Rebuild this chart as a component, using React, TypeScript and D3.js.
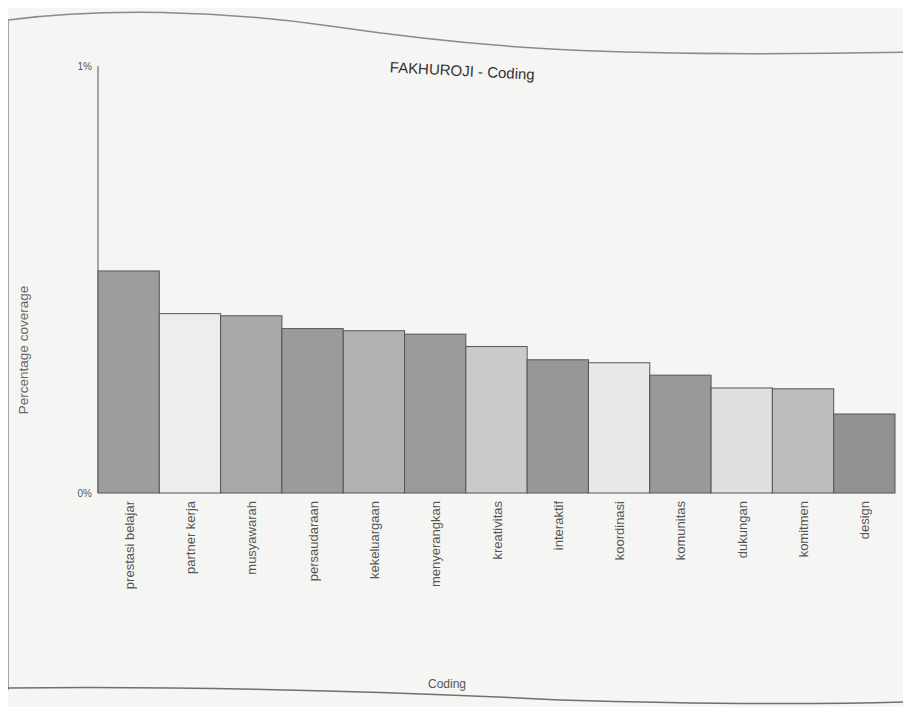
import React from "react";
import * as d3 from "d3";

// Coding nodes and their percentage coverage
const categories = [
  "prestasi belajar",
  "partner kerja",
  "musyawarah",
  "persaudaraan",
  "kekeluargaan",
  "menyerangkan",
  "kreativitas",
  "interaktif",
  "koordinasi",
  "komunitas",
  "dukungan",
  "komitmen",
  "design",
];
const coverage = [0.52, 0.42, 0.415, 0.385, 0.38, 0.372, 0.343, 0.312, 0.305, 0.276, 0.246, 0.244, 0.185];
const barColors = [
  "#9d9d9d", "#ededeb", "#a9a9a9", "#9b9b9b", "#b2b2b2", "#9a9a9a", "#cacaca",
  "#979797", "#e8e8e6", "#999999", "#dfdfdd", "#bdbdbd", "#929292",
];
const yTicks = [0, 1];

const width = 911;
const height = 715;
const margin = { top: 66, right: 16, bottom: 222, left: 98 };

const App: React.FC = () => {
  const x = d3
    .scaleBand()
    .domain(categories)
    .range([margin.left, width - margin.right])
    .padding(0);

  const y = d3
    .scaleLinear()
    .domain([0, 1])
    .range([height - margin.bottom, margin.top]);

  const data = categories.map((c, i) => ({ name: c, value: coverage[i], color: barColors[i] }));
  const font = "'Liberation Sans', Arial, sans-serif";

  return (
    <svg
      width={width}
      height={height}
      style={{ display: "block", margin: "-8px", background: "#f5f5f3" }}
    >
      {/* printed page frame */}
      <path
        d="M8,20 C100,8 220,10 330,26 C480,48 600,58 911,52"
        fill="none"
        stroke="#8a8a8a"
        strokeWidth={1.5}
      />
      <line x1={8} y1={20} x2={8} y2={690} stroke="#8a8a8a" strokeWidth={1.5} />
      <path
        d="M8,688 C200,686 400,692 560,700 C700,704 800,705 905,702"
        fill="none"
        stroke="#6f6f6f"
        strokeWidth={1.5}
      />
      <line x1={905} y1={52} x2={905} y2={702} stroke="#8a8a8a" strokeWidth={1.2} />

      {/* title */}
      <text
        x={462}
        y={76}
        textAnchor="middle"
        transform="rotate(3 462 76)"
        style={{ fontFamily: font, fontSize: 15, fill: "#333" }}
      >
        FAKHUROJI - Coding
      </text>

      {/* y axis */}
      <line
        x1={margin.left}
        x2={margin.left}
        y1={y(1)}
        y2={y(0)}
        stroke="#555"
        strokeWidth={1}
      />
      {yTicks.map((t) => (
        <text
          key={t}
          x={margin.left - 6}
          y={y(t) + 4}
          textAnchor="end"
          style={{ fontFamily: font, fontSize: 10, fill: "#555" }}
        >
          {t}%
        </text>
      ))}
      <text
        transform={`translate(28, 350) rotate(-90)`}
        textAnchor="middle"
        style={{ fontFamily: font, fontSize: 13.5, fill: "#666" }}
      >
        Percentage coverage
      </text>

      {/* bars */}
      {data.map((d) => (
        <rect
          key={d.name}
          x={x(d.name) || 0}
          y={y(d.value)}
          width={x.bandwidth()}
          height={y(0) - y(d.value)}
          fill={d.color}
          stroke="#555"
          strokeWidth={1}
        />
      ))}

      {/* category labels */}
      {data.map((d) => {
        const cx = (x(d.name) || 0) + x.bandwidth() / 2 + 5;
        const ty = y(0) + 8;
        return (
          <text
            key={d.name}
            transform={`translate(${cx}, ${ty}) rotate(-90)`}
            textAnchor="end"
            style={{ fontFamily: font, fontSize: 13, fill: "#555" }}
          >
            {d.name}
          </text>
        );
      })}

      {/* x axis title */}
      <text
        x={447}
        y={688}
        textAnchor="middle"
        style={{ fontFamily: font, fontSize: 12, fill: "#555" }}
      >
        Coding
      </text>
    </svg>
  );
};

export default App;
